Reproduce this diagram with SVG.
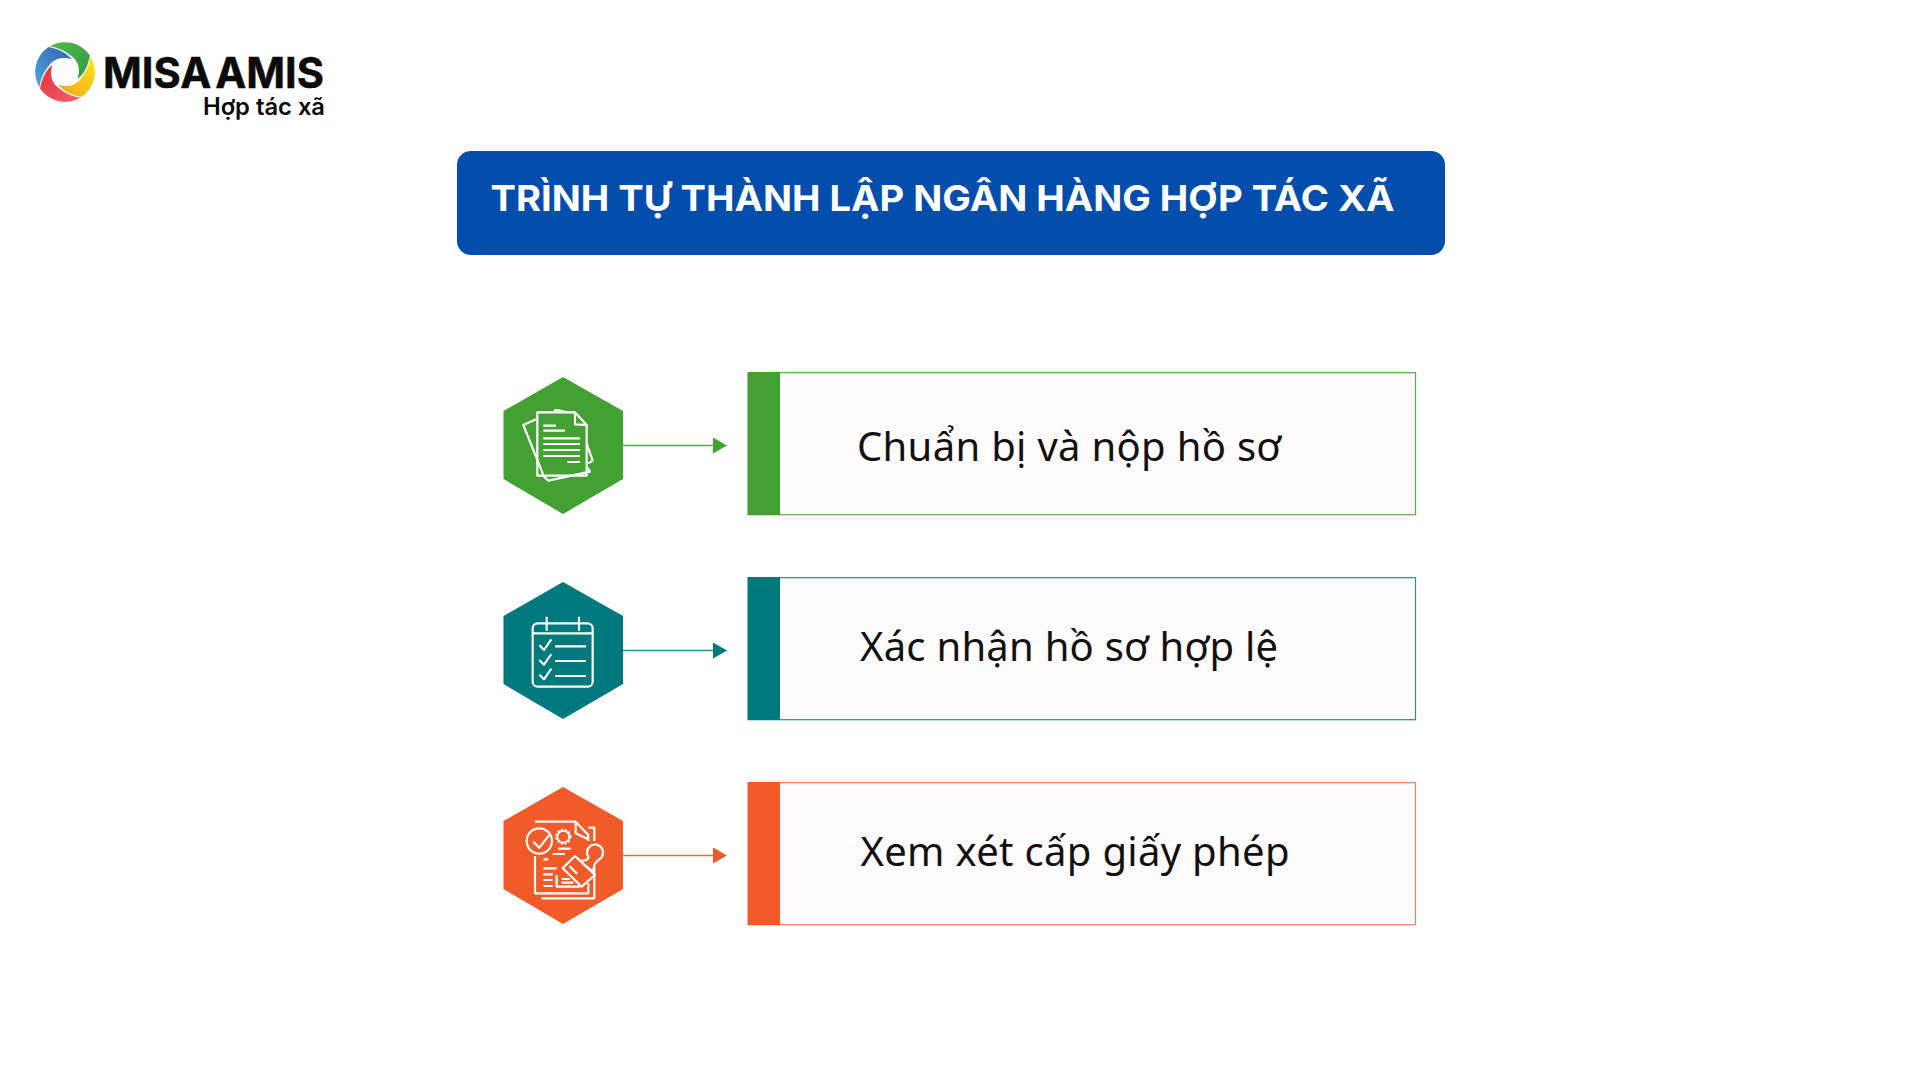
<svg xmlns="http://www.w3.org/2000/svg" width="1920" height="1080" viewBox="0 0 1920 1080">
<style>
text{font-family:"Noto Sans","Liberation Sans",sans-serif}
.lbl{font-size:40px;fill:#111}
.ttl{font-family:Inter,"Noto Sans",sans-serif;font-size:36px;font-weight:700;fill:#fff}
.logo{font-family:Inter,"Noto Sans",sans-serif;fill:#0b0b0b}
.ic{fill:none;stroke:#fff;stroke-width:6.500;stroke-linejoin:round;stroke-linecap:butt}
.card{fill:#fffcfd;stroke-width:1.2}
.cn{stroke-width:1.4;fill:none}
</style>
<defs>
<marker id="ag" markerUnits="userSpaceOnUse" markerWidth="14" markerHeight="16" refX="0" refY="8" orient="auto"><path d="M0,0L14,8L0,16Z" fill="#43A033"/></marker>
<marker id="at" markerUnits="userSpaceOnUse" markerWidth="14" markerHeight="16" refX="0" refY="8" orient="auto"><path d="M0,0L14,8L0,16Z" fill="#00797C"/></marker>
<marker id="ao" markerUnits="userSpaceOnUse" markerWidth="14" markerHeight="16" refX="0" refY="8" orient="auto"><path d="M0,0L14,8L0,16Z" fill="#F15A29"/></marker>
<path id="blade" d="M-15.500,-25.500A30,30 0 0 1 25,-16.500C23,-7 20,1 12.500,7C16,-3 13,-11 7,-15.500C1,-21 -8,-25 -15.500,-25.500Z"/>
<linearGradient id="lg" x1="0" y1="0" x2="1" y2="1"><stop offset="0" stop-color="#55B848"/><stop offset="1" stop-color="#2E9A48"/></linearGradient>
<linearGradient id="ly" x1="0" y1="0" x2="1" y2="1"><stop offset="0" stop-color="#FFE516"/><stop offset="1" stop-color="#F4A321"/></linearGradient>
<linearGradient id="lr" x1="0" y1="0" x2="1" y2="1"><stop offset="0" stop-color="#F0606C"/><stop offset="1" stop-color="#E9303C"/></linearGradient>
<linearGradient id="lb" x1="0" y1="0" x2="1" y2="1"><stop offset="0" stop-color="#4AA6DE"/><stop offset="1" stop-color="#3461AE"/></linearGradient>
<polygon id="hex" points="563,0 623,34 623,102 563,137 503.500,102 503.500,34"/>
</defs>
<rect width="1920" height="1080" fill="#fff"/>

<g id="logo">
<g transform="translate(65,72)">
<use href="#blade" fill="url(#lg)"/>
<use href="#blade" fill="url(#ly)" transform="rotate(90)"/>
<use href="#blade" fill="url(#lr)" transform="rotate(180)"/>
<use href="#blade" fill="url(#lb)" transform="rotate(270)"/>
</g>
<text class="logo" x="103" y="88" font-size="42" font-weight="700" word-spacing="-6" stroke="#0b0b0b" stroke-width=".5" textLength="221" lengthAdjust="spacingAndGlyphs">MISA AMIS</text>
<text class="logo" x="203" y="115" font-size="24" font-weight="600" textLength="122" lengthAdjust="spacingAndGlyphs">Hợp tác xã</text>
</g>

<g id="title">
<rect x="457" y="151" width="988" height="104" rx="14" fill="#034EAC"/>
<text class="ttl" x="490.500" y="211" textLength="904" lengthAdjust="spacingAndGlyphs">TRÌNH TỰ THÀNH LẬP NGÂN HÀNG HỢP TÁC XÃ</text>
</g>

<g id="connectors">
<line class="cn" x1="623" y1="445.500" x2="713" y2="445.500" stroke="#5DA94E" marker-end="url(#ag)"/>
<line class="cn" x1="623" y1="650.500" x2="713" y2="650.500" stroke="#2A8C8F" marker-end="url(#at)"/>
<line class="cn" x1="623" y1="855.500" x2="713" y2="855.500" stroke="#E8693F" marker-end="url(#ao)"/>
</g>

<g id="node-1">
<use href="#hex" fill="#43A033" transform="translate(0,377)"/>
<g transform="translate(480,360) scale(.3333)">
<path class="ic" d="M172,157H285L320,195V347H172ZM285,157V193L320,195"/>
<path class="ic" d="M168,178L130,195L192,350L205,362L330,335L322,322M320,250L338,302L325,310M222,152L232,150L262,157"/>
<path class="ic" d="M190,197H228M190,212H255M190,235H300M190,252H300M190,270H300M190,288H300M262,306H300"/>
</g>
<rect class="card" x="748" y="372.700" width="667.500" height="142" stroke="#5DA94E"/>
<rect x="748" y="372" width="32" height="143" fill="#43A033"/>
<text class="lbl" x="857" y="461" textLength="424">Chuẩn bị và nộp hồ sơ</text>
</g>

<g id="node-2">
<use href="#hex" fill="#00797C" transform="translate(0,582)"/>
<g transform="translate(480,570) scale(.3333)">
<rect class="ic" x="158" y="160" width="180" height="190" rx="15"/>
<path class="ic" d="M158,190H338M200,140V182M297,140V182M225,229H318M225,273H318M225,318H318M178,226L192,240L214,208M178,270L192,284L214,252M178,314L192,328L214,296"/>
</g>
<rect class="card" x="748" y="577.700" width="667.500" height="142" stroke="#2A8C8F"/>
<rect x="748" y="577" width="32" height="143" fill="#00797C"/>
<text class="lbl" x="860" y="661" textLength="418">Xác nhận hồ sơ hợp lệ</text>
</g>

<g id="node-3">
<use href="#hex" fill="#F15A29" transform="translate(0,787)"/>
<g transform="translate(480,780) scale(.3333)">
<path class="ic" d="M165,125H287L325,165V183M287,128V160L325,178M325,143H343V183M165,228V340H325V310M185,355H343V262"/>
<path class="ic" d="M235,206H272M218,222H255M190,238H205M190,265H230M190,283H218M190,300H218M190,318H218M230,285V320H300M245,297H270M245,308H280"/>
<circle cx="178" cy="183" r="38" fill="#F15A29" stroke="#fff" stroke-width="6.500"/>
<path class="ic" d="M160,185L178,203L208,165"/>
<circle cx="250" cy="170" r="18" fill="none" stroke="#fff" stroke-width="6"/>
<circle cx="250" cy="170" r="22" fill="none" stroke="#fff" stroke-width="5" stroke-dasharray="6 6"/>
<path d="M296,240C312,245 322,240 326,232A24,24 0 1 1 358,238C348,244 340,256 340,276Z" fill="#F15A29" stroke="#fff" stroke-width="6.500" stroke-linejoin="round"/>
<path d="M248,265L285,228L345,285L305,320Z" fill="#F15A29" stroke="#fff" stroke-width="6.500" stroke-linejoin="round"/>
<path class="ic" d="M292,282L268,258"/>
</g>
<rect class="card" x="748" y="782.700" width="667.500" height="142" stroke="#E8806A"/>
<rect x="748" y="782" width="32" height="143" fill="#F15A29"/>
<text class="lbl" x="860.500" y="866" textLength="429">Xem xét cấp giấy phép</text>
</g>
</svg>
